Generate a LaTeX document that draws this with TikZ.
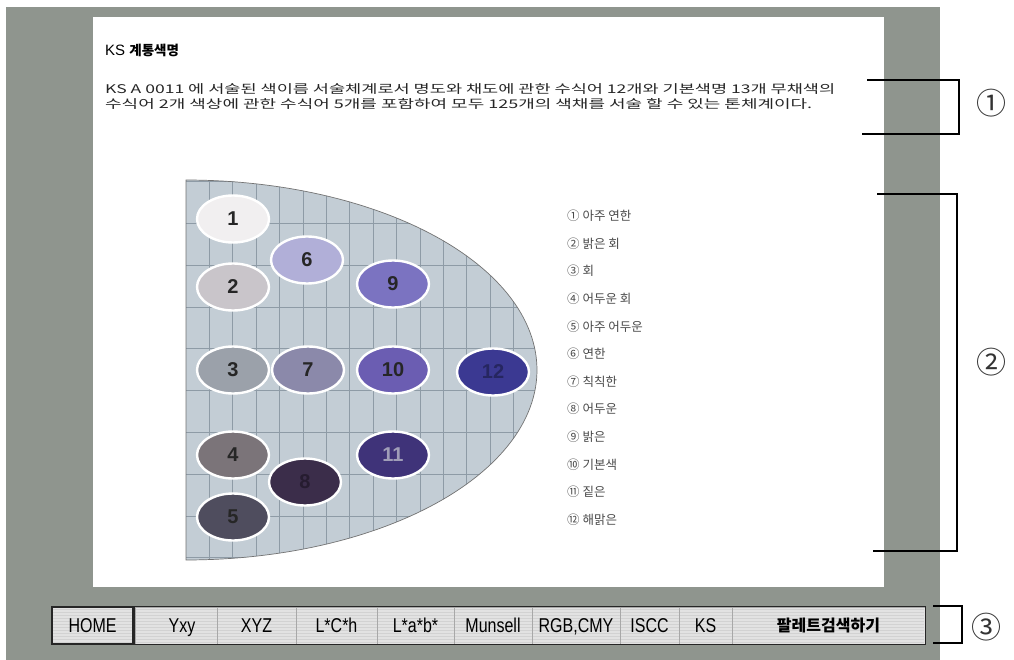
\documentclass[tikz,border=0pt]{standalone}
\usepackage{fontspec}
\usepackage{graphicx}
\setmainfont{Liberation Sans}
\newfontfamily\kr{Noto Sans CJK KR}
\usetikzlibrary{shapes.geometric}
\definecolor{scr}{HTML}{8F958E}
\definecolor{shapefill}{HTML}{C3CDD5}
\definecolor{gridc}{HTML}{8E9BA6}
\definecolor{btnfill}{HTML}{E2E2E2}
\definecolor{btnline}{HTML}{D2D2D2}
\definecolor{sepc}{HTML}{A8A8A8}
\definecolor{legc}{HTML}{4A4A4A}
\definecolor{c1}{HTML}{F1EFF0}
\definecolor{c2}{HTML}{C9C5CA}
\definecolor{c3}{HTML}{9BA1AA}
\definecolor{c4}{HTML}{7B7479}
\definecolor{c5}{HTML}{4F4D5E}
\definecolor{c6}{HTML}{B1AFD8}
\definecolor{c7}{HTML}{8B89AA}
\definecolor{c8}{HTML}{3B2D4A}
\definecolor{c9}{HTML}{7B73C1}
\definecolor{c10}{HTML}{6B5DB2}
\definecolor{c11}{HTML}{3F3379}
\definecolor{c12}{HTML}{3B3992}
\definecolor{t8}{HTML}{261C30}
\definecolor{t11}{HTML}{A09EB8}
\definecolor{t12}{HTML}{262660}
\begin{document}
\begin{tikzpicture}[x=1pt,y=-1pt,
  el/.style={ellipse,draw=white,line width=2.4pt,minimum width=72pt,minimum height=47pt,inner sep=0pt,
    font=\fontsize{20}{20}\selectfont\bfseries,text=black!85},
  leg/.style={anchor=west,inner sep=0pt,text=legc,font=\kr\fontsize{12.5}{13}\selectfont},
  btn/.style={draw=sepc,line width=0.8pt,minimum height=37pt,inner sep=0pt,text=black,
    text height=14.3pt,text depth=0pt,font=\fontsize{20}{20}\selectfont},
  brk/.style={line width=1.8pt,black},
  cmark/.style={inner sep=0pt,text=black!80,font=\kr\fontsize{30}{30}\selectfont}
]
\fill[white] (0,0) rectangle (1014,660);
\useasboundingbox (0,0) rectangle (1014,660);
% screen
\fill[scr] (6,7) rectangle (940,660);
\fill[white] (93,17) rectangle (884,587);
% title and text
\node[anchor=west,inner sep=0pt] (title) at (105,50)
  {\fontsize{15}{15}\selectfont KS \kr\bfseries\fontsize{13.5}{14}\selectfont 계통색명};
\node[anchor=west,inner sep=0pt,text=black!85] (p1) at (105,89)
  {\resizebox{730pt}{\height}{\kr\fontsize{12}{14}\selectfont KS A 0011 에 서술된 색이름 서술체계로서 명도와 채도에 관한 수식어 12개와 기본색명 13개 무채색의}};
\node[anchor=west,inner sep=0pt,text=black!85] (p2) at (105,104)
  {\resizebox{707pt}{\height}{\kr\fontsize{12}{14}\selectfont 수식어 2개 색상에 관한 수식어 5개를 포함하여 모두 125개의 색채를 서술 할 수 있는 톤체계이다.}};
% half ellipse with grid
\fill[shapefill] plot[domain=-90:90,samples=120] ({186+351*cos(\x)},{370+190*sin(\x)}) -- cycle;
\begin{scope}
  \clip plot[domain=-90:90,samples=120] ({186+351*cos(\x)},{370+190*sin(\x)}) -- cycle;
  \foreach \i in {1,...,15} \draw[gridc,line width=0.7pt] ({186+23.4*\i},175) -- ++(0,390);
  \foreach \j in {0,...,9} \draw[gridc,line width=0.7pt] (186,{181.5+41.8*\j}) -- ++(360,0);
\end{scope}
\draw[black!55,line width=0.7pt] plot[domain=-90:90,samples=120] ({186+351*cos(\x)},{370+190*sin(\x)}) -- cycle;
% ellipses
\node[el,fill=c1] (e1) at (233,219) {1};
\node[el,fill=c6] (e6) at (307,260) {6};
\node[el,fill=c2] (e2) at (233,287) {2};
\node[el,fill=c9] (e9) at (393,284) {9};
\node[el,fill=c3] (e3) at (233,370) {3};
\node[el,fill=c7] (e7) at (308,370) {7};
\node[el,fill=c10] (e10) at (393,370) {10};
\node[el,fill=c12,text=t12] (e12) at (493,372) {12};
\node[el,fill=c4] (e4) at (233,455) {4};
\node[el,fill=c11,text=t11] (e11) at (393,455) {11};
\node[el,fill=c8,text=t8] (e8) at (305,482) {8};
\node[el,fill=c5] (e5) at (233,517) {5};
% legend
\node[leg] (l1) at (567,216) {① 아주 연한};
\node[leg] (l2) at (567,243.6) {② 밝은 회};
\node[leg] (l3) at (567,271.2) {③ 회};
\node[leg] (l4) at (567,298.8) {④ 어두운 회};
\node[leg] (l5) at (567,326.4) {⑤ 아주 어두운};
\node[leg] (l6) at (567,354) {⑥ 연한};
\node[leg] (l7) at (567,381.6) {⑦ 칙칙한};
\node[leg] (l8) at (567,409.2) {⑧ 어두운};
\node[leg] (l9) at (567,436.8) {⑨ 밝은};
\node[leg] (l10) at (567,464.4) {⑩ 기본색};
\node[leg] (l11) at (567,492) {⑪ 짙은};
\node[leg] (l12) at (567,519.6) {⑫ 해맑은};
% button bar
\fill[btnfill] (52,607) rectangle (133,644);
\fill[btnfill] (135,607) rectangle (925,644);
\foreach \k in {0,...,11} {
  \draw[btnline,line width=0.5pt] (53,{609.5+3*\k}) -- (132,{609.5+3*\k});
  \draw[btnline,line width=0.5pt] (136,{609.5+3*\k}) -- (924,{609.5+3*\k});
}
\node[btn,draw=black!85,line width=1.2pt,minimum width=81pt] (b1) at (92.5,625.5) {\scalebox{0.8}[1]{HOME}};
\node[btn,minimum width=82pt] (b2) at (176,625.5) {\hspace*{12pt}\scalebox{0.8}[1]{Yxy}};
\node[btn,minimum width=79pt] (b3) at (256.5,625.5) {\scalebox{0.8}[1]{XYZ}};
\node[btn,minimum width=81pt] (b4) at (336.5,625.5) {\scalebox{0.8}[1]{L*C*h}};
\node[btn,minimum width=77pt] (b5) at (415.5,625.5) {\scalebox{0.8}[1]{L*a*b*}};
\node[btn,minimum width=78pt] (b6) at (493,625.5) {\scalebox{0.8}[1]{Munsell}};
\node[btn,minimum width=88pt] (b7) at (576,625.5) {\scalebox{0.8}[1]{RGB,CMY}};
\node[btn,minimum width=59pt] (b8) at (649.5,625.5) {\scalebox{0.8}[1]{ISCC}};
\node[btn,minimum width=53pt] (b9) at (705.5,625.5) {\scalebox{0.8}[1]{KS}};
\node[btn,minimum width=193pt,text height=12pt,text depth=0pt] (b10) at (828.5,625.5) {\kr\bfseries\fontsize{16}{16}\selectfont 팔레트검색하기};
\draw[black!85,line width=1.2pt] (b2.north west) rectangle (b10.south east);
% brackets and marks
\coordinate (k1a) at (867,80); \coordinate (k1b) at (959,80);
\coordinate (k1c) at (959,134); \coordinate (k1d) at (862,134);
\draw[brk] (k1a) -- (k1b) -- (k1c) -- (k1d);
\coordinate (k2a) at (877,194); \coordinate (k2b) at (957,194);
\coordinate (k2c) at (957,551); \coordinate (k2d) at (873,551);
\draw[brk] (k2a) -- (k2b) -- (k2c) -- (k2d);
\coordinate (k3a) at (933,606); \coordinate (k3b) at (962,606);
\coordinate (k3c) at (962,643); \coordinate (k3d) at (933,643);
\draw[brk] (k3a) -- (k3b) -- (k3c) -- (k3d);
\node[cmark] (m1) at (991,103) {①};
\node[cmark] (m2) at (991,362) {②};
\node[cmark] (m3) at (986,627) {③};
\end{tikzpicture}
\end{document}
